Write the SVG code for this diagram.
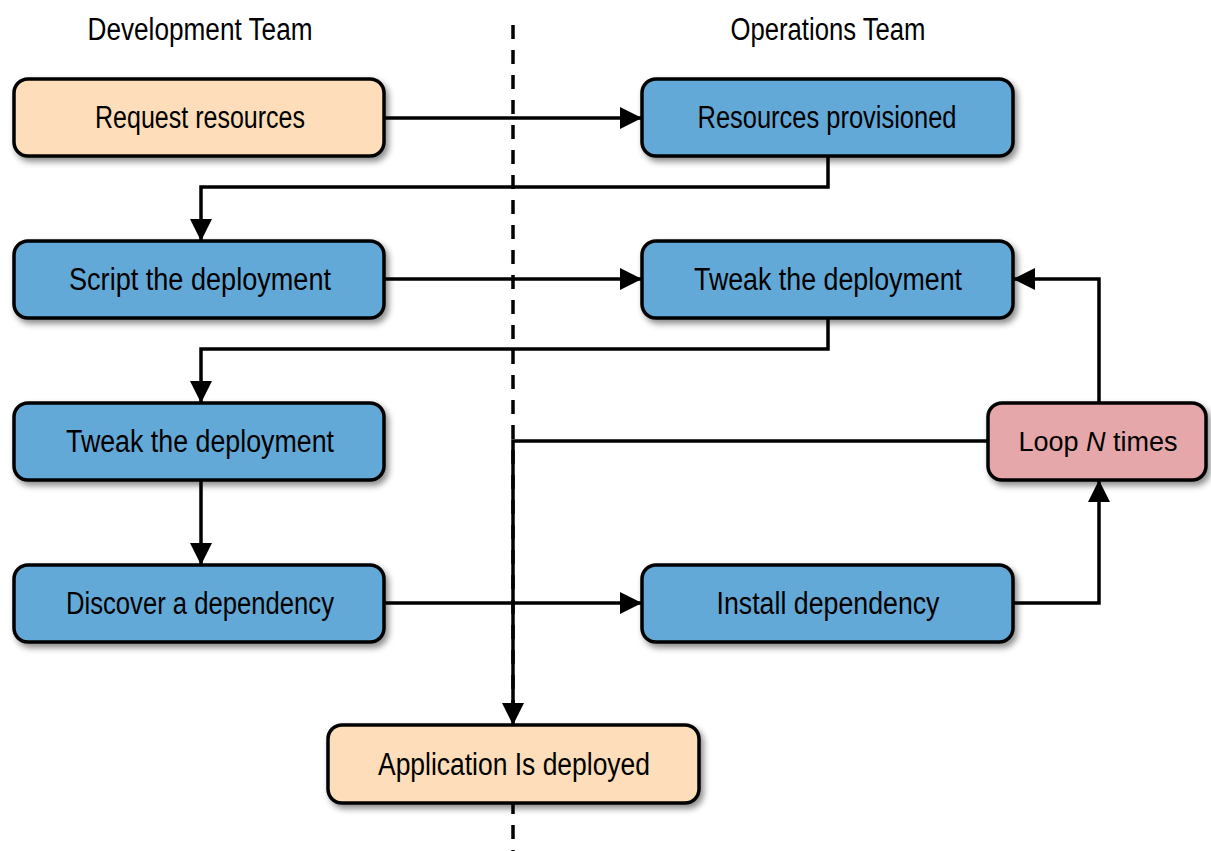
<svg xmlns="http://www.w3.org/2000/svg" width="1211" height="851" viewBox="0 0 1211 851">
<style>
.box{stroke:#000;stroke-width:3.5;filter:url(#sh)}
.peach{fill:#FDDDBA}
.blue{fill:#64A9D7}
.pink{fill:#E5A7AA}
.t{font-family:"Liberation Sans Narrow","Liberation Sans",Arial,sans-serif;font-size:31px;fill:#000;text-anchor:middle}
.c{fill:none;stroke:#000;stroke-width:3.5}
.div{fill:none;stroke:#000;stroke-width:3.5;stroke-dasharray:14 11}
</style>
<defs>
<filter id="sh" x="-10%" y="-20%" width="125%" height="150%">
<feDropShadow dx="3" dy="4" stdDeviation="3" flood-color="#000" flood-opacity="0.45"/>
</filter>
<marker id="ar" viewBox="0 0 10 10" refX="10" refY="5" markerWidth="22" markerHeight="22" markerUnits="userSpaceOnUse" orient="auto">
<path d="M0,0 L10,5 L0,10 z" fill="#000"/>
</marker>
</defs>
<rect width="1211" height="851" fill="#fff"/>
<g id="headers">
<text class="t" x="200" y="40" textLength="225" lengthAdjust="spacingAndGlyphs">Development Team</text>
<text class="t" x="828" y="40" textLength="195" lengthAdjust="spacingAndGlyphs">Operations Team</text>
</g>
<path class="div" d="M513,25 V851"/>
<g id="connectors">
<path class="c" d="M384,118 H642" marker-end="url(#ar)"/>
<path class="c" d="M828,156 V187 H201 V241" marker-end="url(#ar)"/>
<path class="c" d="M384,279 H642" marker-end="url(#ar)"/>
<path class="c" d="M828,318 V349 H201 V403" marker-end="url(#ar)"/>
<path class="c" d="M201,480 V565" marker-end="url(#ar)"/>
<path class="c" d="M384,603 H642" marker-end="url(#ar)"/>
<path class="c" d="M1013,603 H1099 V480" marker-end="url(#ar)"/>
<path class="c" d="M1099,403 V279 H1013" marker-end="url(#ar)"/>
<path class="c" d="M988,441 H513 V725" marker-end="url(#ar)"/>
</g>
<g id="n1"><rect class="box peach" x="14" y="79" width="370" height="77" rx="14"/><text class="t" x="200" y="128" textLength="210" lengthAdjust="spacingAndGlyphs">Request resources</text></g>
<g id="n2"><rect class="box blue" x="642" y="79" width="371" height="77" rx="14"/><text class="t" x="827" y="128" textLength="259" lengthAdjust="spacingAndGlyphs">Resources provisioned</text></g>
<g id="n3"><rect class="box blue" x="14" y="241" width="370" height="77" rx="14"/><text class="t" x="200" y="290" textLength="262" lengthAdjust="spacingAndGlyphs">Script the deployment</text></g>
<g id="n4"><rect class="box blue" x="642" y="241" width="371" height="77" rx="14"/><text class="t" x="828" y="290" textLength="268" lengthAdjust="spacingAndGlyphs">Tweak the deployment</text></g>
<g id="n5"><rect class="box blue" x="14" y="403" width="370" height="77" rx="14"/><text class="t" x="200" y="452" textLength="268" lengthAdjust="spacingAndGlyphs">Tweak the deployment</text></g>
<g id="n6"><rect class="box pink" x="988" y="403" width="218" height="77" rx="14"/><text class="t" x="1098" y="451" style="font-size:27px">Loop <tspan font-style="italic">N</tspan> times</text></g>
<g id="n7"><rect class="box blue" x="14" y="565" width="370" height="77" rx="14"/><text class="t" x="200" y="614" textLength="268" lengthAdjust="spacingAndGlyphs">Discover a dependency</text></g>
<g id="n8"><rect class="box blue" x="642" y="565" width="371" height="77" rx="14"/><text class="t" x="828" y="614" textLength="223" lengthAdjust="spacingAndGlyphs">Install dependency</text></g>
<g id="n9"><rect class="box peach" x="328" y="725" width="371" height="78" rx="14"/><text class="t" x="514" y="775" textLength="272" lengthAdjust="spacingAndGlyphs">Application Is deployed</text></g>
</svg>
